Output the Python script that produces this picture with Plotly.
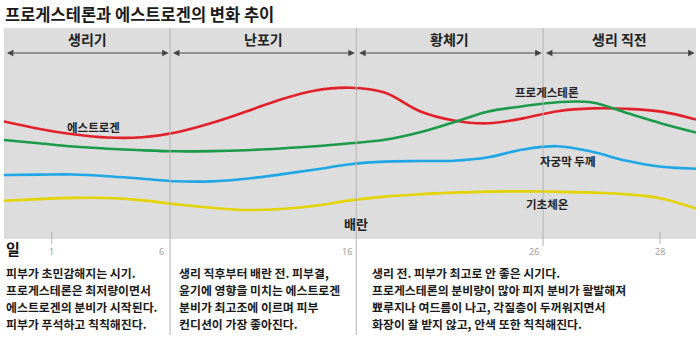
import plotly.graph_objects as go

# ---- data ----
# cycle position (0 = left edge of chart, 100 = right edge)
pos = [0, 5, 10, 15, 20, 25, 30, 35, 40, 45, 50, 55, 60, 65, 70, 75, 80, 85, 90, 95, 100]
estrogen = [117.5, 110.3, 104.8, 101.5, 101.8, 106.8, 116, 127.5, 139.5, 148.5, 151.3,
            146.5, 128, 118.5, 115.7, 120.6, 127.8, 130.6, 130.2, 127.4, 119.5]
progesterone = [99, 95.8, 92.5, 90.3, 88.7, 87.7, 87.9, 88.8, 90.5, 92.7, 95.7,
                99.2, 106.5, 116.8, 127.5, 132.8, 136.8, 136.5, 126, 115.6, 106.5]
endometrium = [64, 64.4, 64.5, 62.8, 60.2, 57.7, 57.6, 60.2, 64.6, 69.5, 74.8,
               77.4, 78, 78.3, 81.8, 89.5, 92.8, 87.2, 78.2, 72.2, 70.3]
body_temp = [38.3, 39.9, 41.1, 41, 38.6, 34.6, 31.2, 29, 30, 33.3, 38.6,
             42.4, 44.8, 46.4, 47.4, 47.6, 47.2, 46.4, 44.7, 40.6, 30.4]

series_names = ["에스트로겐", "프로게스테론", "자궁막 두께", "기초체온"]
series_colors = ["#e2202c", "#1b9a4a", "#1fa6e6", "#e3d300"]

phase_names = ["생리기", "난포기", "황체기", "생리 직전"]
phase_bounds = [0, 24.0, 50.9, 77.9, 100]

days = ["1", "6", "16", "26", "28"]
day_pos = [6.9, 24.0, 50.9, 77.9, 94.8]

notes = [
    ["피부가 초민감해지는 시기.", "프로게스테론은 최저량이면서",
     "에스트로겐의 분비가 시작된다.", "피부가 푸석하고 칙칙해진다."],
    ["생리 직후부터 배란 전. 피부결,", "윤기에 영향을 미치는 에스트로겐",
     "분비가 최고조에 이르며 피부", "컨디션이 가장 좋아진다."],
    ["생리 전. 피부가 최고로 안 좋은 시기다.", "프로게스테론의 분비량이 많아 피지 분비가 활발해져",
     "뾰루지나 여드름이 나고, 각질층이 두꺼워지면서", "화장이 잘 받지 않고, 안색 또한 칙칙해진다."],
]

FONT = "Noto Sans CJK KR"
W, H = 700, 338


def py(p):  # pixel y -> paper y
    return (H - p) / H


fig = go.Figure()
for name, vals, col in zip(series_names,
                           [estrogen, progesterone, endometrium, body_temp],
                           series_colors):
    fig.add_trace(go.Scatter(x=pos, y=vals, mode="lines", name=name,
                             line=dict(color=col, width=2.6, shape="spline", smoothing=1.0),
                             hoverinfo="skip", showlegend=False))

shapes = []
# phase dividers
for i, b in enumerate(phase_bounds[1:-1]):
    bottom = py(335) if i < 2 else py(246)
    shapes.append(dict(type="line", xref="x", yref="paper", x0=b, x1=b,
                       y0=py(28), y1=bottom, line=dict(color="#b4b4b4", width=1)))
# day tick marks
for d, p in zip(days, day_pos):
    if p not in phase_bounds:
        shapes.append(dict(type="line", xref="x", yref="paper", x0=p, x1=p,
                           y0=py(232), y1=py(244), line=dict(color="#b4b4b4", width=1)))

ann = []
# title
ann.append(dict(text="<b>프로게스테론과 에스트로겐의 변화 추이</b>", xref="paper", yref="paper",
                x=3 / W, y=py(14), xanchor="left", yanchor="middle",
                showarrow=False, font=dict(family=FONT, size=16.5, color="#1a1a1a")))
# phase headers and arrows
arrow_y = 239 - 53
for i, name in enumerate(phase_names):
    a, b = phase_bounds[i], phase_bounds[i + 1]
    ann.append(dict(text="<b>" + name + "</b>", x=(a + b) / 2, y=239 - 39, xref="x", yref="y",
                    xanchor="center", yanchor="middle",
                    showarrow=False, font=dict(family=FONT, size=14, color="#222")))
    ann.append(dict(text="", x=b - 0.2, y=arrow_y, ax=a + 0.2, ay=arrow_y, xref="x", yref="y",
                    axref="x", ayref="y", showarrow=True, arrowhead=2, arrowside="end+start",
                    arrowsize=1.3, arrowwidth=1, arrowcolor="#444"))
# series labels
label_xy = [(13.0, 239 - 127), (78.5, 239 - 92), (81.5, 239 - 161), (78.6, 239 - 204)]
for name, (lx, ly) in zip(series_names, label_xy):
    ann.append(dict(text=name, x=lx, y=ly, xref="x", yref="y", showarrow=False,
                    xanchor="center", yanchor="middle",
                    font=dict(family=FONT, size=11.5, color="#222", weight=600)))
ann.append(dict(text="배란", x=phase_bounds[2], y=239 - 223, xref="x", yref="y", showarrow=False,
                xanchor="center", yanchor="middle",
                font=dict(family=FONT, size=13, color="#222", weight=600)))
# day labels
ann.append(dict(text="<b>일</b>", x=4 / W, y=py(248), xref="paper", yref="paper",
                xanchor="left", yanchor="middle", showarrow=False,
                font=dict(family=FONT, size=15, color="#111")))
for d, p in zip(days, day_pos):
    on_div = p in phase_bounds
    ann.append(dict(text=d, x=p, y=py(251), xref="x", yref="paper", showarrow=False,
                    xanchor="center", yanchor="middle",
                    xshift=-9 if on_div else 0,
                    font=dict(family="Noto Sans", size=9, color="#a0a0a0")))
# notes
note_x = [4, 177, 370]
line_y = [272, 289.5, 306.5, 323.5]
for nx, block in zip(note_x, notes):
    for ly, line in zip(line_y, block):
        ann.append(dict(text=line, x=nx / W, y=py(ly), xref="paper", yref="paper",
                        xanchor="left", yanchor="middle", showarrow=False,
                        font=dict(family=FONT, size=11.9, color="#1a1a1a", weight=600)))

fig.update_layout(
    width=W, height=H, margin=dict(l=0, r=0, t=0, b=0),
    paper_bgcolor="white", plot_bgcolor="#dddddd",
    xaxis=dict(range=[0, 100], domain=[4 / W, 696 / W], showgrid=False, zeroline=False,
               showticklabels=False, ticks="", fixedrange=True),
    yaxis=dict(range=[0, 211], domain=[py(239), py(28)], showgrid=False, zeroline=False,
               showticklabels=False, ticks="", fixedrange=True),
    shapes=shapes, annotations=ann, font=dict(family=FONT),
)
fig.write_html("out.html")
